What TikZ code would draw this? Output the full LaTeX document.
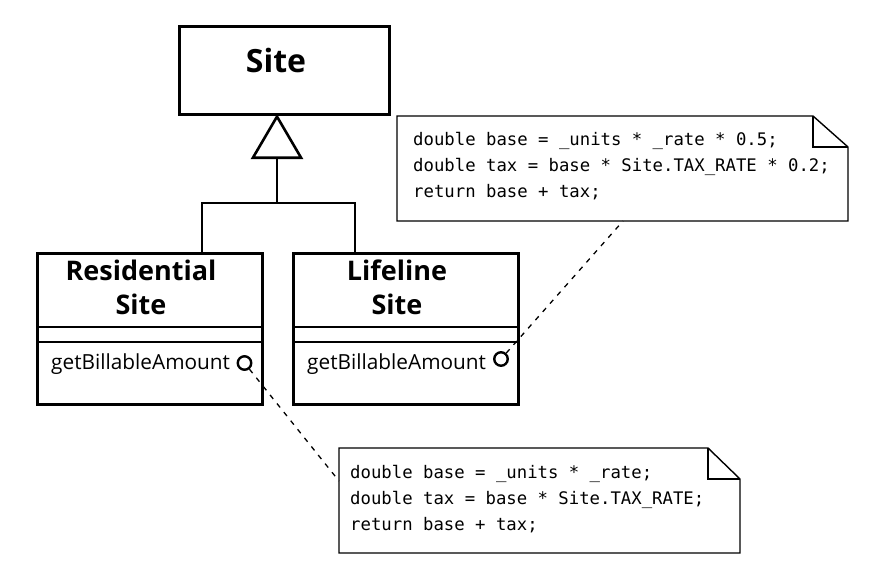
\documentclass[tikz,border=0pt]{standalone}
\usepackage{fontspec}
\setmainfont{Open Sans}
\setmonofont{DejaVu Sans Mono}
\usetikzlibrary{arrows.meta}

\tikzset{
  classbox/.style={draw, line width=2.6pt, inner sep=0pt, anchor=north west},
  compline/.style={line width=1.4pt},
  tree/.style={line width=2.6pt},
  notebox/.style={line width=1.4pt, line join=miter},
  port/.style={circle, draw, line width=2.4pt, minimum size=13.5pt, inner sep=0pt},
  notelink/.style={line width=1.3pt, dash pattern=on 5pt off 6pt},
  classname/.style={anchor=base, inner sep=0pt, font=\fontsize{27}{32}\selectfont\bfseries},
  opname/.style={anchor=base west, inner sep=0pt, font=\fontsize{20.8}{25}\selectfont},
  codeline/.style={anchor=base west, inner sep=0pt, font=\fontsize{17.3}{21}\selectfont\ttfamily}
}

\begin{document}
\begin{tikzpicture}[x=1pt,y=-1pt]
\path[use as bounding box] (0,0) rectangle (873.0,570.0);
% classes
\node[classbox, minimum width=210, minimum height=88] (sitebox) at (178,25) {};
\node[anchor=base, inner sep=0pt, font=\fontsize{32}{38}\selectfont\bfseries] (sitename) at (276,72) {Site};
\node[classbox, minimum width=225, minimum height=151] (resbox) at (36,252) {};
\node[classname] (resname1) at (141,280) {Residential};
\node[classname] (resname2) at (141,314) {Site};
\draw[compline] (36,327) -- (261,327);
\draw[compline] (36,342) -- (261,342);
\node[opname] (resop) at (51,369) {getBillableAmount};
\node[port] (resport) at (244.5,363) {};
\node[classbox, minimum width=225, minimum height=151] (lifebox) at (292,252) {};
\node[classname] (lifename1) at (397,280) {Lifeline};
\node[classname] (lifename2) at (397,314) {Site};
\draw[compline] (292,327) -- (517,327);
\draw[compline] (292,342) -- (517,342);
\node[opname] (lifeop) at (307,369) {getBillableAmount};
\node[port] (lifeport) at (501,359) {};
% generalization
\coordinate (resTop) at (202,252);
\coordinate (lifeTop) at (355,252);
\coordinate (join) at (277,203);
\coordinate (siteBot) at (277,114);
\draw[tree] (resTop) |- (join) -| (lifeTop);
\draw[tree, -{Triangle[open, length=45pt, width=52pt]}] (join) -- (siteBot);
% note for Lifeline Site
\draw[notebox] (397,116) -- (813,116) -- (848,147) -- (848,221) -- (397,221) -- cycle;
\draw[notebox] (813,116) -- (813,147) -- (848,147);
\node[codeline] (codeA1) at (413,145) {double base = \_units * \_rate * 0.5;};
\node[codeline] (codeA2) at (413,171) {double tax = base * Site.TAX\_RATE * 0.2;};
\node[codeline] (codeA3) at (413,197) {return base + tax;};
\coordinate (noteA) at (623,221);
% note for Residential Site
\draw[notebox] (339,448) -- (708,448) -- (740,479) -- (740,553) -- (339,553) -- cycle;
\draw[notebox] (708,448) -- (708,479) -- (740,479);
\node[codeline] (codeB1) at (350,478) {double base = \_units * \_rate;};
\node[codeline] (codeB2) at (350,504) {double tax = base * Site.TAX\_RATE;};
\node[codeline] (codeB3) at (350,530) {return base + tax;};
\coordinate (noteB) at (339,481);
% note links
\draw[notelink] (lifeport) -- (noteA);
\draw[notelink] (resport) -- (noteB);
\end{tikzpicture}
\end{document}
